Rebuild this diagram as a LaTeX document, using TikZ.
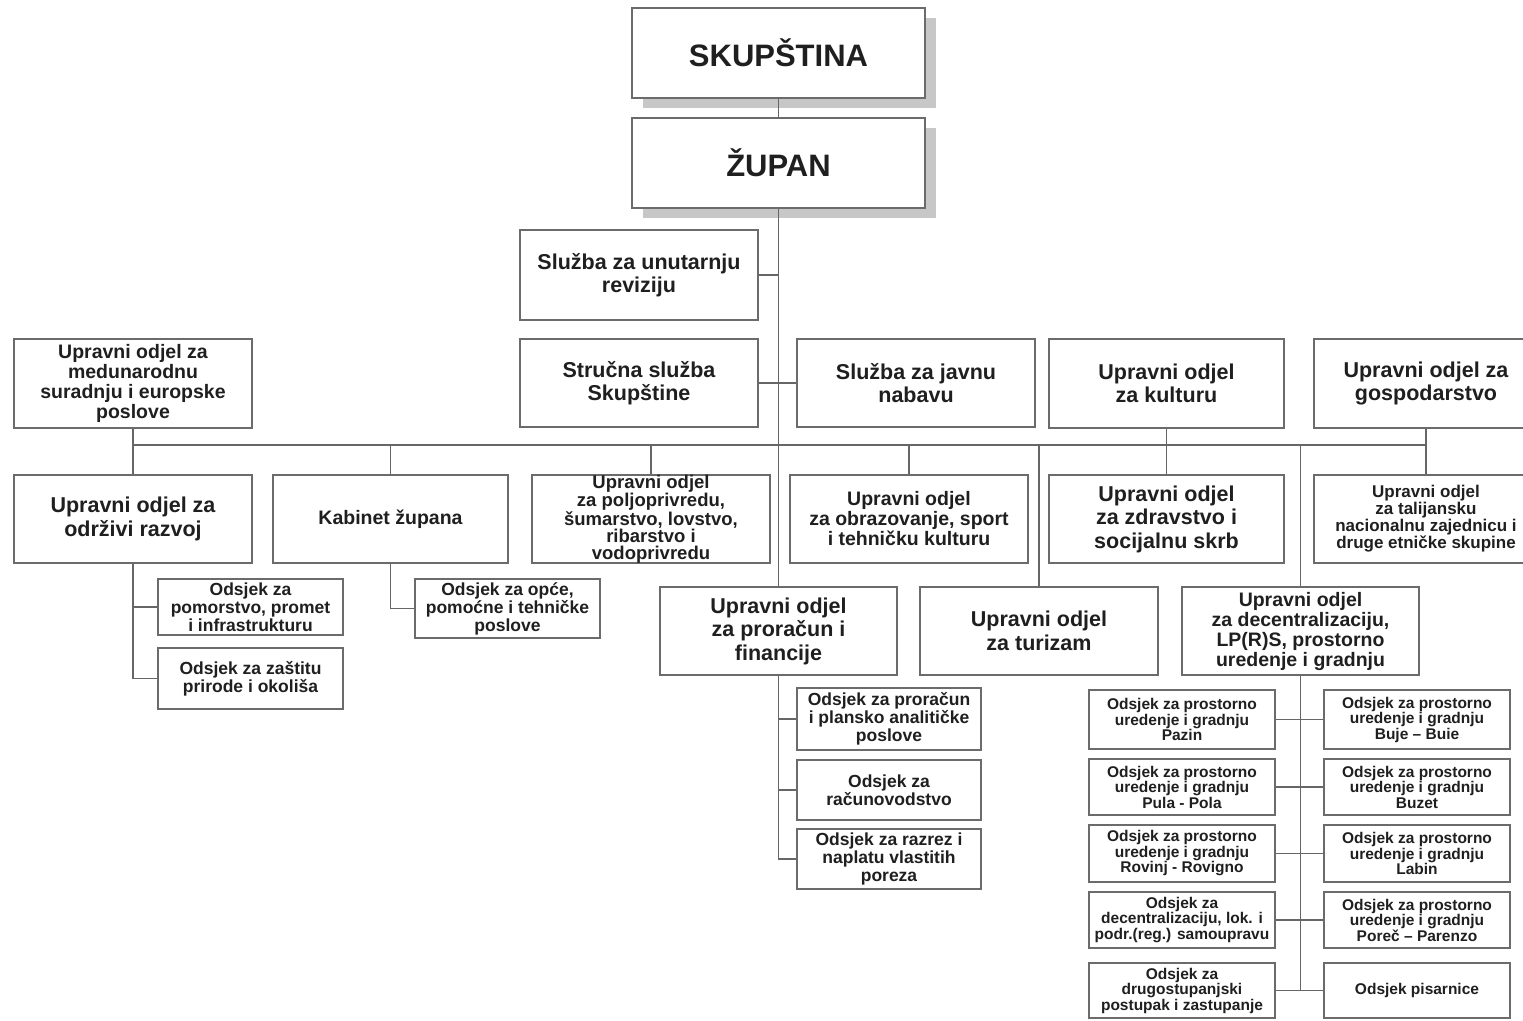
\documentclass[tikz,border=0pt]{standalone}
\usepackage{fontspec}
\setmainfont{Liberation Sans}
\usetikzlibrary{shadows}
\newcommand\obox[7]{\node[#6, minimum width={(#4-#2)*1pt}, minimum height={(#5-#3)*1pt}] (#1) at ({(#2+#4)/2},{(#3+#5)/2}) {#7};}
\begin{document}
\begin{tikzpicture}[x=1pt,y=-1pt,
  box/.style={draw=black!58, line width=2.4pt, fill=white, inner sep=0pt, align=center, text=black!88},
  sub/.style={draw=black!58, line width=1.5pt, fill=white, inner sep=0pt, align=center, text=black!88},
  topbox/.style={box, drop shadow={shadow xshift=11pt, shadow yshift=-10pt, fill=black!22, opacity=1}},
  conn/.style={draw=black!60, line width=1.7pt},
  ftop/.style={font=\bfseries\fontsize{31}{34}\selectfont},
  fmid/.style={font=\bfseries\fontsize{21.5}{23.5}\selectfont},
  fmed/.style={font=\bfseries\fontsize{19.5}{20}\selectfont},
  fpol/.style={font=\bfseries\fontsize{18.5}{17.2}\selectfont},
  ftal/.style={font=\bfseries\fontsize{17}{17}\selectfont},
  fsub/.style={font=\bfseries\fontsize{17.5}{18}\selectfont},
  fsma/.style={font=\bfseries\fontsize{15.5}{15.5}\selectfont}]
\useasboundingbox[fill=white] (0,0) rectangle (1523,1020);
% top
\obox{skup}{632}{8}{925}{98}{topbox,ftop}{SKUPŠTINA}
\obox{zupan}{632}{118}{925}{208}{topbox,ftop}{ŽUPAN}
% level B
\obox{rev}{520}{230}{758}{320}{box,fmid}{Služba za unutarnju\\reviziju}
\obox{struc}{520}{339}{758}{427}{box,fmid}{Stručna služba\\Skupštine}
\obox{nab}{797}{339}{1035}{427}{box,fmid}{Služba za javnu\\nabavu}
\obox{medj}{14}{339}{252}{428}{box,fmed}{Upravni odjel za\\medunarodnu\\suradnju i europske\\poslove}
\obox{kult}{1049}{339}{1284}{428}{box,fmid}{Upravni odjel\\za kulturu}
\obox{gosp}{1314}{339}{1538}{428}{box,fmid}{Upravni odjel za\\gospodarstvo}
% row 2
\obox{odrz}{14}{475}{252}{563}{box,fmid}{Upravni odjel za\\održivi razvoj}
\obox{kab}{273}{475}{508}{563}{box,fmed}{Kabinet župana}
\obox{polj}{532}{475}{770}{563}{box,fpol}{Upravni odjel\\za poljoprivredu,\\šumarstvo, lovstvo,\\ribarstvo i\\vodoprivredu}
\obox{obraz}{790}{475}{1028}{563}{box,fmed}{Upravni odjel\\za obrazovanje, sport\\i tehničku kulturu}
\obox{zdrav}{1049}{475}{1284}{563}{box,fmid}{Upravni odjel\\za zdravstvo i\\socijalnu skrb}
\obox{tal}{1314}{475}{1538}{563}{box,ftal}{Upravni odjel\\za talijansku\\nacionalnu zajednicu i\\druge etničke skupine}
% row 3
\obox{prorac}{660}{587}{897}{675}{box,fmid}{Upravni odjel\\za proračun i\\financije}
\obox{tur}{920}{587}{1158}{675}{box,fmid}{Upravni odjel\\za turizam}
\obox{dec}{1182}{587}{1419}{675}{box,fmed}{Upravni odjel\\za decentralizaciju,\\LP(R)S, prostorno\\uredenje i gradnju}
% odsjeci
\obox{pom}{158}{579}{343}{635}{sub,fsub}{Odsjek za\\pomorstvo, promet\\i infrastrukturu}
\obox{zast}{158}{648}{343}{709}{sub,fsub}{Odsjek za zaštitu\\prirode i okoliša}
\obox{opc}{415}{579}{600}{638}{sub,fsub}{Odsjek za opće,\\pomoćne i tehničke\\poslove}
\obox{pa}{797}{688}{981}{750}{sub,fsub}{Odsjek za proračun\\i plansko analitičke\\poslove}
\obox{pb}{797}{760}{981}{820}{sub,fsub}{Odsjek za\\računovodstvo}
\obox{pc}{797}{829}{981}{889}{sub,fsub}{Odsjek za razrez i\\naplatu vlastitih\\poreza}
\obox{da}{1089}{690}{1275}{749}{sub,fsma}{Odsjek za prostorno\\uredenje i gradnju\\Pazin}
\obox{ea}{1324}{690}{1510}{749}{sub,fsma}{Odsjek za prostorno\\uredenje i gradnju\\Buje – Buie}
\obox{db}{1089}{759}{1275}{815}{sub,fsma}{Odsjek za prostorno\\uredenje i gradnju\\Pula - Pola}
\obox{eb}{1324}{759}{1510}{815}{sub,fsma}{Odsjek za prostorno\\uredenje i gradnju\\Buzet}
\obox{dc}{1089}{825}{1275}{882}{sub,fsma}{Odsjek za prostorno\\uredenje i gradnju\\Rovinj - Rovigno}
\obox{ec}{1324}{825}{1510}{882}{sub,fsma}{Odsjek za prostorno\\uredenje i gradnju\\Labin}
\obox{dd}{1089}{892}{1275}{948}{sub,fsma}{Odsjek za\\decentralizaciju, lok. i\\podr.(reg.) samoupravu}
\obox{ed}{1324}{892}{1510}{948}{sub,fsma}{Odsjek za prostorno\\uredenje i gradnju\\Poreč – Parenzo}
\obox{de}{1089}{963}{1275}{1018}{sub,fsma}{Odsjek za\\drugostupanjski\\postupak i zastupanje}
\obox{ee}{1324}{963}{1510}{1018}{sub,fsma}{Odsjek pisarnice}
% connectors
\coordinate (busy) at (778,445);
\draw[conn] (skup.south) -- (zupan.north);
\draw[conn] (zupan.south) -- (prorac.north);
\draw[conn] (rev.east) -- (rev.east -| zupan.south);
\draw[conn] (struc.east) -- (nab.west);
\draw[conn] (medj.south |- busy) -- (gosp.south |- busy);
\draw[conn] (medj.south) -- (odrz.north);
\draw[conn] (kult.south) -- (zdrav.north);
\draw[conn] (gosp.south) -- (tal.north);
\foreach \n in {kab,polj,obraz,tur,dec} \draw[conn] (\n.north |- busy) -- (\n.north);
\draw[conn] (odrz.south) -- (odrz.south |- zast.west) -- (zast.west);
\draw[conn] (odrz.south |- pom.west) -- (pom.west);
\draw[conn] (kab.south) -- (kab.south |- opc.west) -- (opc.west);
\draw[conn] (prorac.south) -- (prorac.south |- pc.west) -- (pc.west);
\draw[conn] (prorac.south |- pa.west) -- (pa.west);
\draw[conn] (prorac.south |- pb.west) -- (pb.west);
\draw[conn] (dec.south) -- (dec.south |- de.east);
\foreach \a/\b in {da/ea,db/eb,dc/ec,dd/ed,de/ee} \draw[conn] (\a.east) -- (\b.west);
\end{tikzpicture}
\end{document}
